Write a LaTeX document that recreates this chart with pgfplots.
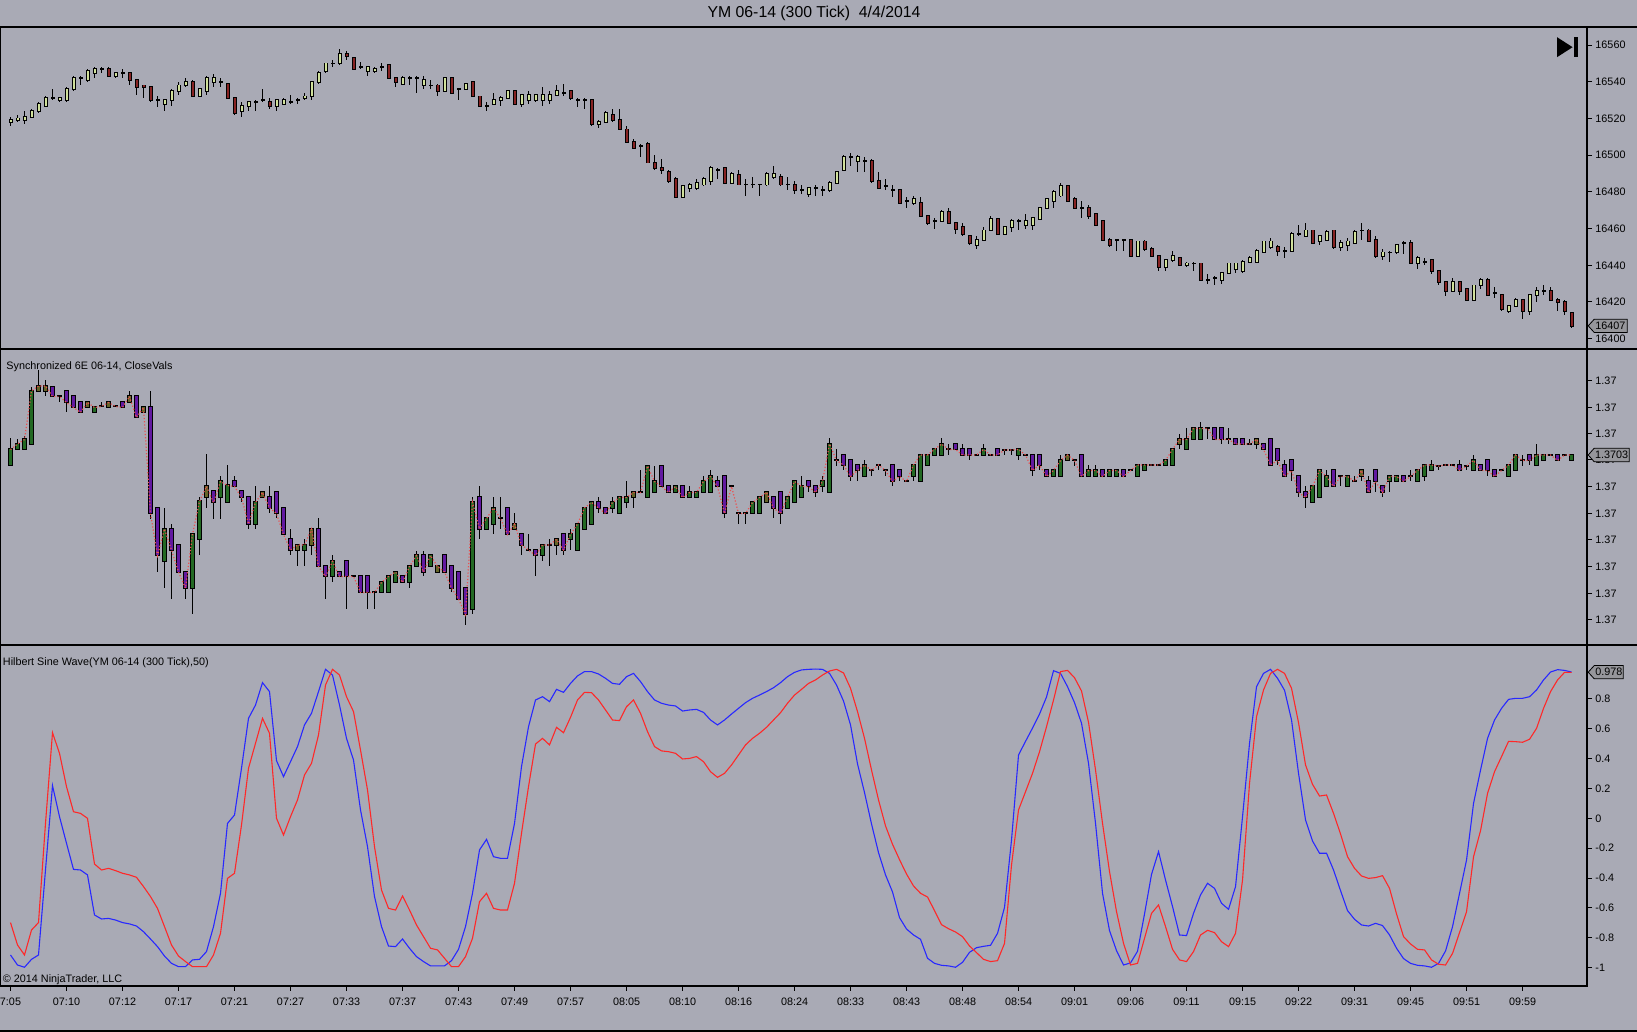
\documentclass[border=0pt]{standalone}
\usepackage{pgfplots}
\usepackage{pgfplotstable}
\pgfplotsset{compat=1.18}
\usepackage{fontspec}
\setmainfont{Liberation Sans}

\definecolor{bg}{RGB}{169,170,181}
\definecolor{upA}{RGB}{208,224,155}
\definecolor{dnA}{RGB}{135,35,35}
\definecolor{upB}{RGB}{35,105,35}
\definecolor{dnB}{RGB}{98,25,160}
\definecolor{olB}{RGB}{100,100,40}
\definecolor{hblue}{RGB}{40,40,255}
\definecolor{hred}{RGB}{255,40,40}
\definecolor{cdot}{RGB}{235,80,80}
\definecolor{boxg}{RGB}{150,150,155}

% YM 06-14 candles: index, open, high, low, close, class (1 up, 0 down)
\pgfplotstableread{
i o h l c k
0 16518 16521 16516 16519 1
1 16519 16522 16518 16520 1
2 16519 16524 16517 16521 1
3 16521 16525 16520 16524 1
4 16524 16529 16523 16528 1
5 16527 16532 16526 16531 1
6 16531 16536 16530 16531 1
7 16530 16531 16529 16531 1
8 16530 16537 16529 16536 1
9 16536 16543 16535 16542 1
10 16542 16543 16538 16542 1
11 16541 16547 16540 16546 1
12 16545 16548 16542 16547 1
13 16547 16548 16545 16547 1
14 16547 16548 16543 16543 0
15 16543 16545 16542 16545 1
16 16545 16547 16542 16545 1
17 16545 16545 16538 16541 0
18 16541 16541 16533 16537 0
19 16538 16538 16531 16537 0
20 16537 16537 16529 16530 0
21 16530 16532 16526 16530 1
22 16528 16530 16524 16530 1
23 16530 16536 16527 16535 1
24 16535 16540 16533 16538 1
25 16538 16542 16537 16540 1
26 16540 16541 16532 16532 0
27 16532 16536 16532 16536 1
28 16535 16543 16533 16542 1
29 16540 16544 16537 16542 1
30 16540 16542 16537 16540 1
31 16539 16539 16531 16531 0
32 16531 16531 16522 16523 0
33 16524 16529 16521 16527 1
34 16527 16529 16524 16529 1
35 16529 16530 16524 16529 1
36 16530 16536 16529 16530 1
37 16529 16531 16525 16527 0
38 16527 16530 16524 16530 1
39 16528 16531 16528 16530 1
40 16529 16533 16528 16529 1
41 16530 16531 16528 16530 1
42 16531 16534 16530 16532 1
43 16532 16540 16530 16540 1
44 16540 16546 16539 16545 1
45 16546 16550 16545 16550 1
46 16550 16552 16548 16550 1
47 16550 16558 16549 16555 1
48 16555 16557 16552 16554 0
49 16553 16553 16547 16547 0
50 16548 16551 16547 16548 1
51 16546 16548 16543 16548 1
52 16546 16548 16545 16547 1
53 16548 16550 16546 16548 1
54 16549 16549 16542 16542 0
55 16542 16542 16537 16540 0
56 16539 16543 16538 16542 1
57 16542 16543 16538 16542 1
58 16542 16543 16534 16542 1
59 16538 16543 16536 16541 1
60 16538 16541 16536 16538 1
61 16538 16539 16532 16535 0
62 16535 16542 16535 16542 1
63 16542 16542 16534 16534 0
64 16536 16536 16530 16536 1
65 16536 16539 16536 16539 1
66 16540 16540 16532 16532 0
67 16532 16532 16527 16527 0
68 16527 16529 16524 16527 1
69 16528 16534 16528 16530 1
70 16530 16532 16527 16531 1
71 16531 16535 16531 16535 1
72 16535 16535 16528 16528 0
73 16528 16533 16526 16533 1
74 16530 16535 16528 16533 1
75 16530 16533 16529 16533 1
76 16530 16537 16527 16533 1
77 16530 16535 16528 16533 1
78 16533 16538 16532 16535 1
79 16534 16539 16532 16534 1
80 16535 16535 16530 16531 0
81 16530 16531 16526 16530 1
82 16530 16531 16525 16530 1
83 16530 16530 16516 16517 0
84 16517 16519 16515 16518 1
85 16518 16524 16518 16523 1
86 16522 16525 16518 16519 0
87 16519 16525 16514 16514 0
88 16514 16516 16507 16507 0
89 16507 16509 16504 16504 0
90 16505 16506 16499 16505 1
91 16506 16507 16496 16496 0
92 16496 16500 16492 16493 0
93 16493 16498 16490 16492 0
94 16491 16492 16485 16486 0
95 16487 16488 16477 16477 0
96 16477 16483 16477 16483 1
97 16482 16485 16480 16484 1
98 16482 16487 16481 16485 1
99 16484 16488 16483 16487 1
100 16486 16494 16484 16493 1
101 16492 16493 16487 16492 1
102 16493 16493 16485 16485 0
103 16485 16491 16485 16490 1
104 16489 16492 16484 16484 0
105 16484 16487 16478 16484 1
106 16484 16488 16482 16484 1
107 16484 16484 16478 16484 1
108 16484 16491 16483 16490 1
109 16488 16494 16487 16490 1
110 16488 16490 16483 16484 0
111 16484 16488 16481 16484 1
112 16484 16486 16479 16481 0
113 16481 16484 16479 16481 1
114 16479 16482 16477 16482 1
115 16482 16484 16478 16482 1
116 16481 16483 16478 16481 1
117 16481 16486 16480 16485 1
118 16485 16491 16485 16491 1
119 16492 16500 16492 16499 1
120 16499 16501 16494 16499 1
121 16497 16500 16491 16499 1
122 16497 16499 16491 16497 1
123 16497 16498 16485 16486 0
124 16486 16491 16482 16482 0
125 16483 16487 16481 16483 1
126 16481 16484 16477 16481 1
127 16481 16481 16474 16474 0
128 16475 16477 16471 16475 1
129 16474 16478 16473 16476 1
130 16474 16477 16467 16467 0
131 16467 16467 16462 16463 0
132 16464 16466 16460 16464 1
133 16464 16470 16464 16469 1
134 16469 16471 16463 16463 0
135 16463 16463 16457 16460 0
136 16461 16463 16456 16457 0
137 16456 16456 16451 16452 0
138 16451 16456 16449 16454 1
139 16454 16461 16454 16459 1
140 16459 16467 16459 16465 1
141 16465 16465 16457 16457 0
142 16457 16461 16457 16461 1
143 16461 16465 16458 16464 1
144 16464 16465 16459 16464 1
145 16462 16468 16460 16464 1
146 16462 16466 16459 16466 1
147 16465 16471 16465 16471 1
148 16471 16476 16471 16476 1
149 16475 16481 16471 16480 1
150 16478 16485 16477 16483 1
151 16483 16483 16475 16475 0
152 16476 16477 16471 16471 0
153 16471 16475 16466 16471 1
154 16471 16473 16465 16467 0
155 16468 16468 16462 16462 0
156 16464 16464 16454 16454 0
157 16454 16455 16450 16451 0
158 16454 16454 16448 16454 1
159 16454 16454 16448 16454 1
160 16454 16454 16445 16445 0
161 16445 16453 16445 16453 1
162 16453 16454 16448 16449 0
163 16449 16450 16445 16445 0
164 16445 16445 16437 16439 0
165 16439 16443 16437 16443 1
166 16443 16448 16442 16445 1
167 16444 16444 16440 16440 0
168 16440 16442 16439 16441 1
169 16441 16442 16437 16441 1
170 16441 16441 16432 16432 0
171 16432 16435 16430 16432 1
172 16433 16434 16429 16433 1
173 16432 16436 16430 16436 1
174 16436 16441 16435 16441 1
175 16438 16441 16436 16441 1
176 16437 16443 16436 16442 1
177 16442 16445 16442 16444 1
178 16442 16449 16442 16448 1
179 16447 16453 16447 16453 1
180 16450 16455 16449 16453 1
181 16450 16451 16445 16448 0
182 16448 16450 16444 16448 1
183 16448 16458 16448 16457 1
184 16457 16462 16456 16457 1
185 16456 16463 16456 16459 1
186 16459 16459 16452 16452 0
187 16453 16456 16451 16456 1
188 16454 16459 16454 16458 1
189 16459 16459 16449 16450 0
190 16450 16454 16448 16452 1
191 16451 16455 16448 16453 1
192 16452 16459 16452 16458 1
193 16459 16463 16454 16459 1
194 16459 16460 16453 16453 0
195 16454 16456 16444 16445 0
196 16445 16449 16443 16447 1
197 16447 16448 16442 16447 1
198 16447 16451 16446 16451 1
199 16452 16453 16446 16452 1
200 16452 16454 16441 16441 0
201 16441 16445 16438 16444 1
202 16442 16444 16440 16442 1
203 16443 16443 16435 16437 0
204 16437 16437 16429 16431 0
205 16431 16431 16423 16426 0
206 16426 16433 16426 16431 1
207 16431 16431 16424 16426 0
208 16427 16427 16421 16421 0
209 16421 16429 16421 16429 1
210 16429 16433 16427 16432 1
211 16432 16433 16423 16424 0
212 16425 16428 16422 16425 1
213 16424 16424 16415 16416 0
214 16415 16418 16414 16418 1
215 16418 16422 16417 16421 1
216 16421 16421 16411 16415 0
217 16415 16424 16413 16424 1
218 16424 16428 16420 16426 1
219 16426 16429 16424 16426 1
220 16426 16428 16421 16421 0
221 16421 16422 16415 16420 0
222 16420 16421 16413 16415 0
223 16414 16414 16406 16407 0
}\ymd

% 6E 06-14 synchronized candles: class 1 green, 0 purple, 2 olive
\pgfplotstableread{
i o h l c k
0 1.37010 1.37064 1.37010 1.37041 1
1 1.37041 1.37062 1.37041 1.37052 1
2 1.37041 1.37068 1.37041 1.37061 1
3 1.37052 1.37166 1.37052 1.37158 1
4 1.37158 1.37200 1.37158 1.37168 2
5 1.37158 1.37180 1.37147 1.37168 2
6 1.37166 1.37166 1.37147 1.37147 0
7 1.37147 1.37147 1.37136 1.37147 1
8 1.37157 1.37157 1.37115 1.37135 0
9 1.37147 1.37147 1.37125 1.37125 0
10 1.37135 1.37135 1.37115 1.37115 0
11 1.37125 1.37135 1.37125 1.37135 2
12 1.37115 1.37125 1.37115 1.37125 1
13 1.37127 1.37135 1.37127 1.37127 1
14 1.37125 1.37135 1.37125 1.37135 2
15 1.37127 1.37127 1.37127 1.37127 1
16 1.37135 1.37135 1.37125 1.37125 0
17 1.37135 1.37158 1.37135 1.37147 2
18 1.37147 1.37147 1.37105 1.37105 0
19 1.37115 1.37125 1.37115 1.37125 2
20 1.37125 1.37158 1.36901 1.36913 0
21 1.36924 1.36924 1.36796 1.36829 0
22 1.36817 1.36924 1.36764 1.36882 1
23 1.36882 1.36892 1.36742 1.36840 0
24 1.36850 1.36850 1.36796 1.36796 0
25 1.36796 1.36796 1.36742 1.36764 0
26 1.36764 1.36871 1.36711 1.36871 1
27 1.36861 1.36945 1.36829 1.36937 1
28 1.36945 1.37032 1.36924 1.36967 2
29 1.36957 1.36957 1.36901 1.36935 0
30 1.36945 1.36988 1.36901 1.36977 1
31 1.36935 1.37010 1.36935 1.36969 1
32 1.36977 1.36988 1.36967 1.36967 0
33 1.36957 1.36957 1.36935 1.36945 0
34 1.36945 1.36945 1.36882 1.36892 0
35 1.36892 1.36967 1.36882 1.36935 1
36 1.36945 1.36955 1.36945 1.36955 2
37 1.36945 1.36967 1.36913 1.36924 0
38 1.36955 1.36955 1.36903 1.36913 0
39 1.36924 1.36924 1.36871 1.36871 0
40 1.36861 1.36882 1.36829 1.36840 0
41 1.36840 1.36850 1.36807 1.36850 2
42 1.36840 1.36861 1.36807 1.36850 1
43 1.36850 1.36882 1.36829 1.36882 2
44 1.36882 1.36903 1.36807 1.36807 0
45 1.36807 1.36807 1.36742 1.36787 0
46 1.36787 1.36829 1.36775 1.36817 1
47 1.36796 1.36796 1.36787 1.36787 0
48 1.36817 1.36817 1.36722 1.36787 0
49 1.36787 1.36787 1.36787 1.36787 1
50 1.36787 1.36787 1.36755 1.36755 0
51 1.36787 1.36787 1.36722 1.36755 0
52 1.36755 1.36755 1.36722 1.36755 1
53 1.36755 1.36775 1.36755 1.36775 1
54 1.36755 1.36787 1.36755 1.36787 1
55 1.36775 1.36796 1.36775 1.36796 1
56 1.36787 1.36787 1.36775 1.36775 0
57 1.36775 1.36807 1.36764 1.36807 1
58 1.36807 1.36838 1.36807 1.36829 1
59 1.36829 1.36838 1.36787 1.36796 0
60 1.36807 1.36829 1.36807 1.36829 1
61 1.36796 1.36807 1.36796 1.36807 2
62 1.36829 1.36829 1.36796 1.36796 0
63 1.36807 1.36807 1.36755 1.36764 0
64 1.36796 1.36796 1.36742 1.36742 0
65 1.36764 1.36764 1.36690 1.36711 0
66 1.36722 1.36945 1.36711 1.36935 1
67 1.36945 1.36967 1.36861 1.36882 0
68 1.36882 1.36903 1.36882 1.36903 1
69 1.36892 1.36945 1.36871 1.36924 1
70 1.36903 1.36945 1.36882 1.36903 1
71 1.36924 1.36924 1.36871 1.36871 0
72 1.36882 1.36913 1.36882 1.36892 2
73 1.36871 1.36871 1.36829 1.36850 0
74 1.36840 1.36871 1.36840 1.36840 1
75 1.36840 1.36840 1.36787 1.36829 0
76 1.36829 1.36850 1.36817 1.36850 1
77 1.36850 1.36861 1.36807 1.36850 1
78 1.36850 1.36861 1.36829 1.36861 2
79 1.36871 1.36871 1.36829 1.36840 0
80 1.36861 1.36882 1.36840 1.36871 1
81 1.36840 1.36892 1.36840 1.36892 1
82 1.36882 1.36924 1.36882 1.36924 1
83 1.36892 1.36935 1.36892 1.36935 1
84 1.36935 1.36945 1.36913 1.36924 0
85 1.36924 1.36924 1.36913 1.36913 0
86 1.36924 1.36945 1.36913 1.36935 1
87 1.36913 1.36945 1.36913 1.36945 1
88 1.36935 1.36977 1.36924 1.36945 1
89 1.36945 1.36955 1.36924 1.36955 2
90 1.36955 1.36999 1.36955 1.36955 1
91 1.36945 1.37008 1.36945 1.37008 1
92 1.36955 1.37008 1.36955 1.36977 1
93 1.37008 1.37008 1.36967 1.36967 0
94 1.36967 1.36967 1.36955 1.36955 0
95 1.36955 1.36967 1.36955 1.36967 1
96 1.36967 1.36967 1.36945 1.36945 0
97 1.36945 1.36967 1.36945 1.36955 1
98 1.36945 1.36955 1.36945 1.36955 1
99 1.36955 1.36988 1.36955 1.36977 1
100 1.36955 1.36999 1.36955 1.36987 1
101 1.36977 1.36988 1.36967 1.36967 0
102 1.36987 1.36987 1.36903 1.36913 0
103 1.36967 1.36967 1.36967 1.36967 1
104 1.36913 1.36913 1.36892 1.36913 1
105 1.36913 1.36913 1.36892 1.36913 1
106 1.36913 1.36935 1.36913 1.36935 1
107 1.36913 1.36945 1.36913 1.36945 1
108 1.36935 1.36955 1.36935 1.36955 2
109 1.36945 1.36945 1.36903 1.36924 0
110 1.36955 1.36955 1.36892 1.36913 0
111 1.36924 1.36945 1.36924 1.36945 1
112 1.36935 1.36977 1.36935 1.36977 1
113 1.36945 1.36988 1.36945 1.36967 1
114 1.36977 1.36977 1.36955 1.36967 0
115 1.36967 1.36967 1.36945 1.36955 0
116 1.36967 1.36988 1.36955 1.36977 1
117 1.36955 1.37064 1.36955 1.37052 1
118 1.37019 1.37041 1.37008 1.37019 1
119 1.37030 1.37030 1.36999 1.37010 0
120 1.37019 1.37019 1.36977 1.36987 0
121 1.37010 1.37010 1.36977 1.36999 0
122 1.36987 1.37019 1.36987 1.37010 1
123 1.36999 1.36999 1.36987 1.36999 1
124 1.37010 1.37010 1.36999 1.37010 1
125 1.36999 1.36999 1.36987 1.36999 1
126 1.37010 1.37010 1.36967 1.36977 0
127 1.36999 1.36999 1.36977 1.36987 0
128 1.36977 1.36977 1.36977 1.36977 1
129 1.36987 1.37010 1.36977 1.37010 1
130 1.36977 1.37030 1.36977 1.37030 1
131 1.37010 1.37030 1.37010 1.37030 1
132 1.37030 1.37041 1.37030 1.37041 1
133 1.37030 1.37064 1.37030 1.37052 1
134 1.37041 1.37052 1.37030 1.37041 1
135 1.37052 1.37052 1.37041 1.37041 0
136 1.37041 1.37052 1.37030 1.37030 0
137 1.37041 1.37041 1.37019 1.37030 0
138 1.37030 1.37030 1.37030 1.37030 1
139 1.37030 1.37052 1.37030 1.37041 1
140 1.37030 1.37030 1.37030 1.37030 1
141 1.37041 1.37041 1.37030 1.37030 0
142 1.37040 1.37040 1.37030 1.37040 1
143 1.37040 1.37040 1.37030 1.37040 1
144 1.37030 1.37041 1.37019 1.37041 1
145 1.37030 1.37030 1.37030 1.37030 1
146 1.37030 1.37030 1.36987 1.36999 0
147 1.37030 1.37030 1.36999 1.37010 0
148 1.36999 1.36999 1.36987 1.36987 0
149 1.36987 1.36999 1.36987 1.36999 1
150 1.36987 1.37030 1.36987 1.37019 1
151 1.37019 1.37030 1.37019 1.37030 2
152 1.37019 1.37019 1.37008 1.37019 1
153 1.37030 1.37030 1.36987 1.36987 0
154 1.36987 1.37010 1.36987 1.36999 1
155 1.36987 1.37010 1.36987 1.36999 1
156 1.36999 1.36999 1.36987 1.36987 0
157 1.36987 1.36999 1.36987 1.36999 1
158 1.36987 1.36999 1.36987 1.36999 1
159 1.36999 1.36999 1.36987 1.36987 0
160 1.36999 1.36999 1.36999 1.36999 1
161 1.36987 1.37010 1.36987 1.37010 1
162 1.36999 1.37010 1.36999 1.37010 1
163 1.37010 1.37010 1.37010 1.37010 1
164 1.37010 1.37010 1.37010 1.37010 1
165 1.37010 1.37019 1.37010 1.37019 1
166 1.37010 1.37041 1.37010 1.37041 1
167 1.37052 1.37071 1.37041 1.37061 2
168 1.37041 1.37083 1.37041 1.37061 1
169 1.37061 1.37083 1.37061 1.37083 1
170 1.37061 1.37095 1.37061 1.37083 1
171 1.37083 1.37083 1.37061 1.37083 1
172 1.37083 1.37083 1.37061 1.37061 0
173 1.37083 1.37083 1.37052 1.37061 0
174 1.37061 1.37083 1.37052 1.37061 1
175 1.37061 1.37061 1.37052 1.37052 0
176 1.37061 1.37061 1.37052 1.37052 0
177 1.37052 1.37061 1.37052 1.37052 1
178 1.37052 1.37061 1.37041 1.37061 2
179 1.37052 1.37052 1.37041 1.37041 0
180 1.37061 1.37061 1.37010 1.37010 0
181 1.37041 1.37041 1.37010 1.37019 0
182 1.37010 1.37019 1.36987 1.36987 0
183 1.37019 1.37019 1.36977 1.36999 0
184 1.36987 1.36987 1.36945 1.36955 0
185 1.36955 1.36967 1.36924 1.36945 0
186 1.36935 1.36967 1.36935 1.36967 1
187 1.36945 1.36999 1.36945 1.36999 1
188 1.36967 1.36999 1.36967 1.36987 1
189 1.36999 1.36999 1.36967 1.36967 0
190 1.36987 1.36987 1.36967 1.36987 1
191 1.36967 1.36987 1.36967 1.36987 1
192 1.36977 1.36987 1.36977 1.36977 1
193 1.36987 1.36999 1.36977 1.36999 2
194 1.36977 1.36987 1.36955 1.36955 0
195 1.36999 1.36999 1.36955 1.36977 0
196 1.36967 1.36967 1.36945 1.36955 0
197 1.36977 1.36987 1.36955 1.36987 1
198 1.36977 1.36987 1.36977 1.36987 1
199 1.36987 1.36987 1.36977 1.36977 0
200 1.36987 1.36999 1.36977 1.36987 1
201 1.36977 1.36999 1.36977 1.36999 1
202 1.36987 1.37010 1.36977 1.37010 1
203 1.36999 1.37019 1.36999 1.37010 1
204 1.37008 1.37008 1.36999 1.37008 1
205 1.37010 1.37010 1.37010 1.37010 1
206 1.37010 1.37010 1.37010 1.37010 1
207 1.37010 1.37019 1.36999 1.36999 0
208 1.37008 1.37008 1.36999 1.37008 1
209 1.36999 1.37030 1.36999 1.37019 1
210 1.37010 1.37010 1.36999 1.36999 0
211 1.37019 1.37019 1.36987 1.36999 0
212 1.36999 1.36999 1.36987 1.36987 0
213 1.36999 1.36999 1.36999 1.36999 1
214 1.36987 1.37010 1.36987 1.37010 1
215 1.36999 1.37030 1.36999 1.37030 1
216 1.37019 1.37030 1.37008 1.37019 1
217 1.37030 1.37030 1.37010 1.37019 0
218 1.37010 1.37052 1.37010 1.37030 1
219 1.37019 1.37030 1.37019 1.37030 1
220 1.37030 1.37030 1.37030 1.37030 1
221 1.37030 1.37030 1.37019 1.37019 0
222 1.37030 1.37030 1.37030 1.37030 1
223 1.37019 1.37030 1.37019 1.37030 1
}\eud

% Hilbert sine wave: blue b, red r
\pgfplotstableread{
i b r
0 -0.915 -0.698
1 -0.982 -0.848
2 -0.997 -0.915
3 -0.944 -0.748
4 -0.915 -0.698
5 -0.346 -0.034
6 0.219 0.573
7 0.011 0.435
8 -0.167 0.212
9 -0.342 0.044
10 -0.346 0.033
11 -0.379 0.000
12 -0.647 -0.306
13 -0.674 -0.346
14 -0.670 -0.335
15 -0.681 -0.350
16 -0.698 -0.368
17 -0.707 -0.379
18 -0.721 -0.395
19 -0.759 -0.457
20 -0.808 -0.524
21 -0.859 -0.603
22 -0.922 -0.725
23 -0.971 -0.848
24 -0.993 -0.922
25 -0.993 -0.959
26 -0.948 -0.993
27 -0.944 -0.993
28 -0.892 -0.993
29 -0.725 -0.915
30 -0.502 -0.770
31 -0.034 -0.402
32 0.022 -0.368
33 0.335 -0.045
34 0.669 0.335
35 0.758 0.502
36 0.908 0.669
37 0.848 0.569
38 0.386 0.000
39 0.279 -0.112
40 0.379 0.011
41 0.480 0.123
42 0.625 0.290
43 0.703 0.368
44 0.848 0.558
45 0.997 0.892
46 0.959 0.997
47 0.758 0.959
48 0.535 0.814
49 0.390 0.714
50 0.056 0.457
51 -0.190 0.190
52 -0.524 -0.190
53 -0.725 -0.480
54 -0.855 -0.603
55 -0.859 -0.614
56 -0.808 -0.520
57 -0.870 -0.614
58 -0.926 -0.714
59 -0.959 -0.792
60 -0.988 -0.870
61 -0.988 -0.881
62 -0.988 -0.937
63 -0.953 -0.993
64 -0.877 -0.993
65 -0.725 -0.926
66 -0.502 -0.803
67 -0.212 -0.558
68 -0.141 -0.502
69 -0.257 -0.603
70 -0.268 -0.614
71 -0.268 -0.614
72 -0.034 -0.435
73 0.346 -0.100
74 0.613 0.212
75 0.792 0.497
76 0.814 0.535
77 0.781 0.491
78 0.863 0.609
79 0.843 0.573
80 0.903 0.676
81 0.953 0.792
82 0.982 0.843
83 0.982 0.841
84 0.966 0.792
85 0.937 0.725
86 0.903 0.658
87 0.897 0.654
88 0.948 0.747
89 0.970 0.792
90 0.915 0.703
91 0.848 0.580
92 0.792 0.480
93 0.770 0.451
94 0.758 0.446
95 0.752 0.435
96 0.718 0.397
97 0.725 0.401
98 0.729 0.413
99 0.709 0.379
100 0.658 0.312
101 0.625 0.274
102 0.658 0.301
103 0.698 0.357
104 0.736 0.424
105 0.774 0.491
106 0.803 0.535
107 0.825 0.569
108 0.848 0.609
109 0.874 0.658
110 0.908 0.707
111 0.948 0.770
112 0.977 0.825
113 0.993 0.863
114 0.997 0.903
115 0.999 0.926
116 0.997 0.959
117 0.970 0.986
118 0.892 0.997
119 0.785 0.973
120 0.625 0.870
121 0.364 0.714
122 0.172 0.535
123 -0.038 0.323
124 -0.230 0.123
125 -0.379 -0.051
126 -0.493 -0.174
127 -0.665 -0.277
128 -0.741 -0.373
129 -0.781 -0.453
130 -0.810 -0.502
131 -0.937 -0.527
132 -0.971 -0.618
133 -0.984 -0.712
134 -0.988 -0.739
135 -0.997 -0.761
136 -0.964 -0.792
137 -0.897 -0.855
138 -0.866 -0.899
139 -0.857 -0.944
140 -0.850 -0.959
141 -0.770 -0.953
142 -0.596 -0.837
143 -0.145 -0.312
144 0.424 0.056
145 0.515 0.178
146 0.604 0.301
147 0.698 0.446
148 0.812 0.613
149 0.988 0.792
150 0.970 0.982
151 0.881 0.990
152 0.774 0.941
153 0.636 0.852
154 0.368 0.642
155 -0.034 0.323
156 -0.502 -0.034
157 -0.752 -0.357
158 -0.886 -0.625
159 -0.982 -0.837
160 -0.968 -0.982
161 -0.890 -0.971
162 -0.640 -0.803
163 -0.375 -0.636
164 -0.223 -0.580
165 -0.413 -0.725
166 -0.591 -0.877
167 -0.781 -0.948
168 -0.785 -0.959
169 -0.636 -0.892
170 -0.513 -0.781
171 -0.435 -0.750
172 -0.469 -0.765
173 -0.569 -0.826
174 -0.609 -0.859
175 -0.457 -0.770
176 0.011 -0.413
177 0.502 0.234
178 0.881 0.680
179 0.970 0.859
180 0.997 0.970
181 0.937 0.997
182 0.857 0.970
183 0.658 0.870
184 0.301 0.640
185 -0.011 0.357
186 -0.152 0.227
187 -0.234 0.149
188 -0.234 0.156
189 -0.346 0.033
190 -0.484 -0.105
191 -0.618 -0.257
192 -0.676 -0.335
193 -0.714 -0.386
194 -0.721 -0.402
195 -0.703 -0.397
196 -0.718 -0.384
197 -0.781 -0.469
198 -0.870 -0.640
199 -0.939 -0.792
200 -0.971 -0.841
201 -0.984 -0.877
202 -0.988 -0.881
203 -0.997 -0.948
204 -0.971 -0.977
205 -0.888 -0.982
206 -0.725 -0.904
207 -0.502 -0.765
208 -0.279 -0.625
209 0.100 -0.257
210 0.323 -0.083
211 0.535 0.167
212 0.658 0.312
213 0.736 0.413
214 0.796 0.515
215 0.803 0.513
216 0.803 0.509
217 0.814 0.529
218 0.859 0.602
219 0.926 0.736
220 0.979 0.848
221 0.995 0.926
222 0.990 0.977
223 0.979 0.977
}\hsd

\newcommand\sm{\fontsize{5.4}{6.5}\selectfont}

\pgfplotsset{
  panel/.style={
    scale only axis, width=793.5pt, anchor=south west,
    xmin=-1.5, xmax=225.21,
    axis line style={black, line width=0.6pt},
    xtick=\empty, ytick pos=right, yticklabel pos=right,
    scaled y ticks=false, scaled x ticks=false,
    tick align=outside, major tick length=2.5pt,
    every tick/.style={black, line width=0.5pt},
    tick label style={font=\sm, black},
    yticklabel style={xshift=-1.8pt},
    clip mode=individual,
  },
}

\begin{document}
\begin{tikzpicture}
\useasboundingbox (0pt,0pt) rectangle (818.5pt,516pt);
\fill[bg] (0pt,0pt) rectangle (818.5pt,516pt);

% ---------- Panel 1: YM candles (y shown relative to 16394) ----------
\begin{axis}[panel, at={(0pt,341.5pt)}, height=161pt,
  ymin=0.39, ymax=175.86,
  ytick={6,26,46,66,86,106,126,146,166},
  yticklabels={16400,16420,16440,16460,16480,16500,16520,16540,16560}]
\addplot[ycomb, black, line width=0.5pt, mark=none] table[x=i, y expr={\thisrow{h}-16394}]{\ymd};
\addplot[ycomb, black, line width=2pt, mark=none] table[x=i, y expr={max(\thisrow{o},\thisrow{c})+0.5-16394}]{\ymd};
\addplot[ycomb, upA, line width=1pt, mark=none, restrict expr to domain={\thisrow{k}}{0.5:1.5}] table[x=i, y expr={max(\thisrow{o},\thisrow{c})-16394}]{\ymd};
\addplot[ycomb, dnA, line width=1pt, mark=none, restrict expr to domain={\thisrow{k}}{-0.5:0.5}] table[x=i, y expr={max(\thisrow{o},\thisrow{c})-16394}]{\ymd};
\addplot[ycomb, black, line width=1.05pt, mark=none] table[x=i, y expr={min(\thisrow{o},\thisrow{c})-16394}]{\ymd};
\addplot[ycomb, bg, line width=2.3pt, mark=none] table[x=i, y expr={min(\thisrow{o},\thisrow{c})-0.5-16394}]{\ymd};
\addplot[ycomb, black, line width=0.5pt, mark=none] table[x=i, y expr={min(\thisrow{o},\thisrow{c})-0.5-16394}]{\ymd};
\addplot[ycomb, bg, line width=0.75pt, mark=none] table[x=i, y expr={min(\thisrow{l},min(\thisrow{o},\thisrow{c})-0.5)-16394}]{\ymd};
\draw[fill=boxg, line width=0.4pt] (axis cs:225.21,13) ++(0.6pt,0pt) -- ++(3pt,3.3pt) -- ++(16.5pt,0pt) -- ++(0pt,-6.6pt) -- ++(-16.5pt,0pt) -- cycle;
\node[font=\sm, anchor=west, inner sep=0pt, xshift=4pt] at (axis cs:225.21,13) {16407};
\end{axis}

% ---------- Panel 2: 6E synchronized candles (y shown relative to 1.3665) ----------
\begin{axis}[panel, at={(0pt,193.5pt)}, height=148pt,
  ymin=0, ymax=0.00592,
  ytick={0.0005,0.00103,0.00157,0.0021,0.00263,0.00317,0.0037,0.00422,0.00475,0.00528},
  yticklabels={1.37,1.37,1.37,1.37,1.37,1.37,1.37,1.37,1.37,1.37}]
\addplot[ycomb, black, line width=0.5pt, mark=none] table[x=i, y expr={\thisrow{h}-1.3665}]{\eud};
\addplot[ycomb, black, line width=2.7pt, mark=none] table[x=i, y expr={max(\thisrow{o},\thisrow{c})+0.00002-1.3665}]{\eud};
\addplot[ycomb, upB, line width=1.7pt, mark=none, restrict expr to domain={\thisrow{k}}{0.5:1.5}] table[x=i, y expr={max(\thisrow{o},\thisrow{c})-1.3665}]{\eud};
\addplot[ycomb, dnB, line width=1.7pt, mark=none, restrict expr to domain={\thisrow{k}}{-0.5:0.5}] table[x=i, y expr={max(\thisrow{o},\thisrow{c})-1.3665}]{\eud};
\addplot[ycomb, olB, line width=1.7pt, mark=none, restrict expr to domain={\thisrow{k}}{1.5:2.5}] table[x=i, y expr={max(\thisrow{o},\thisrow{c})-1.3665}]{\eud};
\addplot[ycomb, black, line width=1.75pt, mark=none] table[x=i, y expr={min(\thisrow{o},\thisrow{c})-1.3665}]{\eud};
\addplot[ycomb, bg, line width=3pt, mark=none] table[x=i, y expr={min(\thisrow{o},\thisrow{c})-0.00002-1.3665}]{\eud};
\addplot[ycomb, black, line width=0.5pt, mark=none] table[x=i, y expr={min(\thisrow{o},\thisrow{c})-0.00002-1.3665}]{\eud};
\addplot[ycomb, bg, line width=0.75pt, mark=none] table[x=i, y expr={min(\thisrow{l},min(\thisrow{o},\thisrow{c})-0.00002)-1.3665}]{\eud};
\addplot[cdot, densely dotted, line width=0.6pt, mark=none] table[x=i, y expr={\thisrow{c}-1.3665}]{\eud};
\draw[fill=boxg, line width=0.4pt] (axis cs:225.21,0.0038) ++(0.6pt,0pt) -- ++(3pt,3.4pt) -- ++(17.5pt,0pt) -- ++(0pt,-6.8pt) -- ++(-17.5pt,0pt) -- cycle;
\node[font=\sm, anchor=west, inner sep=0pt, xshift=3.9pt] at (axis cs:225.21,0.0038) {1.3703};
\end{axis}

% ---------- Panel 3: Hilbert sine wave ----------
\begin{axis}[panel, at={(0pt,23pt)}, height=170.5pt,
  ymin=-1.1225, ymax=1.160,
  ytick={-1,-0.8,-0.6,-0.4,-0.2,0,0.2,0.4,0.6,0.8},
  yticklabels={-1,-0.8,-0.6,-0.4,-0.2,0,0.2,0.4,0.6,0.8},
  xtick={0,8,...,216}, xtick pos=bottom, xticklabel pos=bottom,
  xticklabels={7:05,07:10,07:12,07:17,07:21,07:27,07:33,07:37,07:43,07:49,07:57,08:05,08:10,08:16,08:24,08:33,08:43,08:48,08:54,09:01,09:06,09:11,09:15,09:22,09:31,09:45,09:51,09:59}]
\addplot[hblue, line width=0.55pt, mark=none] table[x=i, y=b]{\hsd};
\addplot[hred, line width=0.55pt, mark=none] table[x=i, y=r]{\hsd};
\draw[fill=boxg, line width=0.4pt] (axis cs:225.21,0.978) ++(0.6pt,0pt) -- ++(3pt,3.3pt) -- ++(14.5pt,0pt) -- ++(0pt,-6.6pt) -- ++(-14.5pt,0pt) -- cycle;
\node[font=\sm, anchor=west, inner sep=0pt, xshift=4pt] at (axis cs:225.21,0.978) {0.978};
\end{axis}

% ---------- frame and texts ----------
\draw[black, line width=0.7pt] (0pt,502.5pt) -- (818.5pt,502.5pt);
\draw[black, line width=0.7pt] (0pt,341.5pt) -- (818.5pt,341.5pt);
\draw[black, line width=0.7pt] (0pt,193.5pt) -- (818.5pt,193.5pt);
\draw[black, line width=0.8pt] (0pt,0.4pt) -- (818.5pt,0.4pt);
\node[font=\fontsize{7.9}{9}\selectfont, black] at (407pt,509.5pt) {YM 06-14 (300 Tick)~~4/4/2014};
\node[font=\sm, anchor=west, inner sep=0pt] at (3pt,332.5pt) {Synchronized 6E 06-14, CloseVals};
\node[font=\sm, anchor=west, inner sep=0pt] at (1.3pt,184.5pt) {Hilbert Sine Wave(YM 06-14 (300 Tick),50)};
\node[font=\sm, anchor=west, inner sep=0pt] at (1.3pt,26pt) {© 2014 NinjaTrader, LLC};
\fill[black] (778.5pt,497.4pt) -- (778.5pt,487.4pt) -- (786.3pt,492.4pt) -- cycle;
\fill[black] (787.2pt,487.4pt) rectangle (789pt,497.4pt);
\end{tikzpicture}
\end{document}
